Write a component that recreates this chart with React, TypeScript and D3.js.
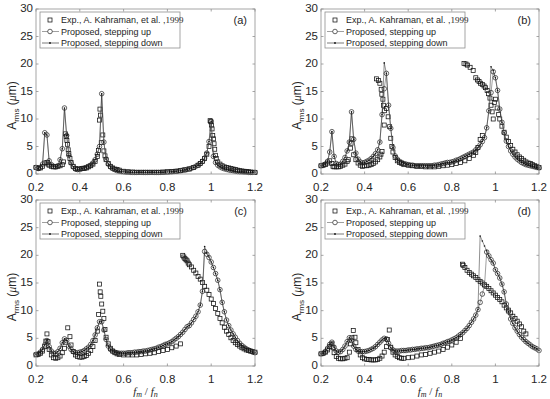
import * as d3 from "d3"

// frequency grid of the simulated curves (f_m / f_n)
const freq = d3.range(0, 101).map((i) => +(0.2 + i * 0.01).toFixed(2))

const xTicks = [0.2, 0.4, 0.6, 0.8, 1, 1.2]
const yTicks = [0, 5, 10, 15, 20, 25, 30]
const panelTags = ["(a)", "(b)", "(c)", "(d)"]
const legendLabels = ["Exp., A. Kahraman, et al. ,", "Proposed, stepping up", "Proposed, stepping down"]

// (a)
const upA = [
  1.2, 1.0, 1.2, 1.8, 7.5, 7.1, 2.4, 1.7, 1.4, 1.3,
  1.5, 2.6, 4.6, 12.0, 7.0, 3.4, 2.0, 1.3, 0.9, 0.8,
  0.9, 1.0, 1.1, 1.2, 1.4, 1.6, 2.0, 2.6, 3.6, 5.0,
  14.6, 5.8, 2.7, 1.8, 1.3, 1.0, 0.8, 0.6, 0.5, 0.45,
  0.4, 0.35, 0.35, 0.3, 0.3, 0.3, 0.3, 0.3, 0.3, 0.3,
  0.3, 0.3, 0.3, 0.3, 0.3, 0.3, 0.3, 0.3, 0.3, 0.35,
  0.35, 0.4, 0.4, 0.45, 0.5, 0.55, 0.6, 0.7, 0.75, 0.85,
  0.95, 1.05, 1.2, 1.4, 1.6, 1.9, 2.3, 2.9, 3.8, 5.9,
  9.6, 3.2, 2.1, 1.6, 1.3, 1.1, 0.95, 0.85, 0.75, 0.65,
  0.6, 0.5, 0.45, 0.4, 0.4, 0.35, 0.35, 0.3, 0.3, 0.3,
  0.3,
]
const downA = [
  1.2, 1.0, 1.2, 1.8, 7.5, 7.1, 2.4, 1.7, 1.4, 1.3,
  1.5, 2.6, 4.6, 12.0, 7.0, 3.4, 2.0, 1.3, 0.9, 0.8,
  0.9, 1.0, 1.1, 1.2, 1.4, 1.6, 2.0, 2.6, 3.6, 5.0,
  14.6, 5.8, 2.7, 1.8, 1.3, 1.0, 0.8, 0.6, 0.5, 0.45,
  0.4, 0.35, 0.35, 0.3, 0.3, 0.3, 0.3, 0.3, 0.3, 0.3,
  0.3, 0.3, 0.3, 0.3, 0.3, 0.3, 0.3, 0.3, 0.3, 0.35,
  0.35, 0.4, 0.4, 0.45, 0.5, 0.55, 0.6, 0.7, 0.75, 0.85,
  0.95, 1.05, 1.2, 1.4, 1.6, 1.9, 2.3, 2.9, 3.8, 5.9,
  9.6, 3.2, 2.1, 1.6, 1.3, 1.1, 0.95, 0.85, 0.75, 0.65,
  0.6, 0.5, 0.45, 0.4, 0.4, 0.35, 0.35, 0.3, 0.3, 0.3,
  0.3,
]
const expA = [
  [0.2, 1.2], [0.21, 1.0], [0.22, 1.1], [0.23, 1.4], [0.24, 2.0], [0.25, 2.1], [0.255, 1.8], [0.26, 1.6],
  [0.27, 1.4], [0.28, 1.3], [0.29, 1.3], [0.3, 1.4], [0.31, 1.5], [0.32, 1.7], [0.325, 2.2], [0.335, 7.3],
  [0.338, 6.8], [0.341, 6.1], [0.344, 5.4], [0.347, 4.4], [0.35, 3.7], [0.355, 2.8], [0.36, 2.1], [0.37, 1.4],
  [0.38, 1.0], [0.39, 0.9], [0.4, 0.9], [0.41, 1.0], [0.42, 1.0], [0.43, 1.1], [0.44, 1.3], [0.45, 1.5],
  [0.46, 1.8], [0.47, 2.3], [0.48, 3.2], [0.485, 4.3], [0.49, 9.8], [0.492, 11.8], [0.495, 10.7], [0.498, 5.7],
  [0.505, 7.1], [0.51, 4.2], [0.515, 3.3], [0.52, 2.6], [0.53, 1.9], [0.54, 1.4], [0.55, 1.1], [0.56, 0.9],
  [0.57, 0.8], [0.58, 0.7], [0.6, 0.5], [0.62, 0.4], [0.64, 0.35], [0.66, 0.3], [0.68, 0.3], [0.7, 0.3],
  [0.72, 0.3], [0.74, 0.3], [0.76, 0.3], [0.78, 0.35], [0.8, 0.4], [0.82, 0.45], [0.84, 0.5], [0.86, 0.6],
  [0.88, 0.75], [0.9, 0.9], [0.92, 1.2], [0.94, 1.6], [0.95, 1.9], [0.96, 2.3], [0.97, 2.8], [0.98, 3.6],
  [0.99, 5.0], [0.995, 9.7], [0.998, 9.5], [1.001, 8.9], [1.004, 8.2], [1.007, 7.0], [1.01, 6.4], [1.013, 5.5],
  [1.016, 4.5], [1.019, 3.4], [1.023, 2.8], [1.03, 2.2], [1.04, 1.8], [1.05, 1.5], [1.06, 1.3], [1.07, 1.2],
  [1.08, 1.1], [1.09, 1.0], [1.1, 0.9], [1.11, 0.8], [1.12, 0.7], [1.13, 0.6], [1.14, 0.55], [1.15, 0.5],
  [1.16, 0.45], [1.17, 0.4], [1.18, 0.35], [1.19, 0.3], [1.2, 0.3],
]

// (b)
const upB = [
  1.5, 1.6, 1.8, 2.3, 4.0, 7.7, 3.2, 1.9, 1.7, 1.8,
  2.3, 3.0, 4.2, 5.8, 11.3, 6.3, 3.8, 2.7, 2.2, 2.0,
  2.1, 2.3, 2.5, 2.8, 3.2, 3.7, 4.4, 5.8, 10.8, 15.5,
  18.3, 12.5, 8.3, 4.8, 3.3, 2.7, 2.3, 2.1, 1.9, 1.8,
  1.7, 1.6, 1.6, 1.5, 1.5, 1.5, 1.5, 1.5, 1.5, 1.5,
  1.5, 1.5, 1.6, 1.6, 1.7, 1.8, 1.9, 2.0, 2.1, 2.1,
  2.2, 2.3, 2.5, 2.6, 2.8, 3.0, 3.2, 3.4, 3.6, 3.8,
  4.0, 4.4, 4.8, 5.3, 5.9, 6.6, 8.4, 11.5, 14.8, 18.6,
  17.5, 15.2, 11.8, 9.4, 7.5, 6.0, 5.0, 4.2, 3.6, 3.1,
  2.7, 2.4, 2.1, 1.9, 1.7, 1.6, 1.5, 1.4, 1.3, 1.2,
  1.1,
]
const downB = [
  1.5, 1.6, 1.8, 2.3, 4.0, 7.7, 3.2, 1.9, 1.7, 1.8,
  2.3, 3.0, 4.2, 5.8, 11.3, 6.3, 3.8, 2.7, 2.2, 2.0,
  2.1, 2.3, 2.5, 2.8, 3.2, 3.7, 4.4, 5.8, 10.8, 20.2,
  18.3, 12.5, 8.3, 4.8, 3.3, 2.7, 2.3, 2.1, 1.9, 1.8,
  1.7, 1.6, 1.6, 1.5, 1.5, 1.5, 1.5, 1.5, 1.5, 1.5,
  1.5, 1.5, 1.6, 1.6, 1.7, 1.8, 1.9, 2.0, 2.1, 2.1,
  2.2, 2.3, 2.5, 2.6, 2.8, 3.0, 3.2, 3.4, 3.6, 3.8,
  4.0, 4.4, 4.8, 5.3, 5.9, 6.6, 8.4, 11.5, 19.5, 18.8,
  17.5, 15.2, 11.8, 9.4, 7.5, 6.0, 5.0, 4.2, 3.6, 3.1,
  2.7, 2.4, 2.1, 1.9, 1.7, 1.6, 1.5, 1.4, 1.3, 1.2,
  1.1,
]
const expB = [
  [0.2, 1.5], [0.21, 1.6], [0.22, 1.7], [0.23, 2.0], [0.24, 2.4], [0.25, 1.9], [0.255, 1.4], [0.26, 1.3],
  [0.27, 1.3], [0.28, 1.3], [0.29, 1.4], [0.3, 1.6], [0.31, 1.8], [0.32, 2.3], [0.325, 2.6], [0.335, 4.7],
  [0.338, 5.6], [0.342, 6.4], [0.35, 3.5], [0.36, 2.6], [0.37, 2.0], [0.38, 1.6], [0.39, 1.4], [0.4, 1.5],
  [0.41, 1.5], [0.42, 1.6], [0.43, 1.7], [0.44, 1.9], [0.45, 2.2], [0.46, 2.6], [0.47, 3.1], [0.475, 3.6],
  [0.48, 4.1], [0.49, 8.9], [0.455, 17.3], [0.463, 17.0], [0.47, 16.5], [0.476, 15.4], [0.479, 14.5],
  [0.484, 13.6], [0.487, 12.5], [0.491, 11.5], [0.5, 11.9], [0.508, 10.4], [0.515, 8.6], [0.52, 6.5],
  [0.525, 5.0], [0.53, 4.0], [0.54, 3.0], [0.55, 2.4], [0.56, 2.1], [0.57, 1.9], [0.58, 1.7], [0.6, 1.6],
  [0.62, 1.5], [0.64, 1.4], [0.66, 1.4], [0.68, 1.3], [0.7, 1.3], [0.72, 1.3], [0.74, 1.4], [0.76, 1.5],
  [0.78, 1.6], [0.8, 1.7], [0.82, 1.9], [0.84, 2.1], [0.86, 2.4], [0.88, 2.8], [0.9, 3.4], [0.91, 3.9],
  [0.92, 4.8], [0.93, 6.3], [0.94, 7.0], [0.856, 20.1], [0.865, 20.0], [0.872, 19.8], [0.884, 19.4],
  [0.898, 18.8], [0.91, 17.5], [0.918, 17.1], [0.925, 16.8], [0.932, 16.5], [0.94, 16.3], [0.948, 16.0],
  [0.955, 15.7], [0.962, 15.2], [0.968, 14.6], [0.975, 13.8], [0.98, 12.5], [0.985, 11.3], [0.99, 10.0],
  [0.995, 13.0], [1.0, 13.6], [1.008, 12.0], [1.015, 10.8], [1.02, 10.0], [1.03, 8.7], [1.04, 7.6],
  [1.05, 6.7], [1.06, 5.9], [1.07, 5.2], [1.08, 4.5], [1.09, 4.0], [1.1, 3.5], [1.11, 3.1], [1.12, 2.8],
  [1.13, 2.5], [1.14, 2.2], [1.15, 2.0], [1.16, 1.9], [1.17, 1.7], [1.18, 1.5], [1.19, 1.4], [1.2, 1.2],
]

// (c)
const upC = [
  2.1, 2.2, 2.5, 3.0, 3.8, 4.6, 3.5, 2.7, 2.3, 2.3,
  2.6, 3.2, 4.2, 4.9, 4.6, 3.6, 3.0, 2.6, 2.4, 2.4,
  2.5, 2.6, 2.8, 3.1, 3.4, 3.9, 4.6, 5.6, 6.9, 8.0,
  8.0, 6.5, 4.8, 3.6, 3.0, 2.7, 2.5, 2.4, 2.3, 2.3,
  2.3, 2.3, 2.4, 2.4, 2.4, 2.5, 2.5, 2.6, 2.6, 2.7,
  2.7, 2.8, 2.9, 3.0, 3.1, 3.2, 3.4, 3.5, 3.7, 3.9,
  4.0, 4.2, 4.4, 4.7, 5.0, 5.3, 5.7, 6.1, 6.6, 7.1,
  7.3, 7.8, 8.4, 9.0, 9.8, 11.0, 13.5, 20.7, 20.2, 19.6,
  18.8, 17.8, 16.7, 15.5, 13.8, 11.5, 9.8, 8.3, 7.3, 6.5,
  5.8, 5.2, 4.6, 4.1, 3.7, 3.4, 3.1, 2.9, 2.7, 2.5,
  2.4,
]
const downC = [
  2.1, 2.2, 2.5, 3.0, 3.8, 4.6, 3.5, 2.7, 2.3, 2.3,
  2.6, 3.2, 4.2, 4.9, 4.6, 3.6, 3.0, 2.6, 2.4, 2.4,
  2.5, 2.6, 2.8, 3.1, 3.4, 3.9, 4.6, 5.6, 6.9, 8.0,
  8.0, 6.5, 4.8, 3.6, 3.0, 2.7, 2.5, 2.4, 2.3, 2.3,
  2.3, 2.3, 2.4, 2.4, 2.4, 2.5, 2.5, 2.6, 2.6, 2.7,
  2.7, 2.8, 2.9, 3.0, 3.1, 3.2, 3.4, 3.5, 3.7, 3.9,
  4.0, 4.2, 4.4, 4.7, 5.0, 5.3, 5.7, 6.1, 6.6, 7.1,
  7.3, 7.8, 8.4, 9.0, 9.8, 11.0, 13.5, 21.6, 20.4, 19.7,
  18.8, 17.8, 16.7, 15.5, 13.8, 11.5, 9.8, 8.3, 7.3, 6.5,
  5.8, 5.2, 4.6, 4.1, 3.7, 3.4, 3.1, 2.9, 2.7, 2.5,
  2.4,
]
const expC = [
  [0.2, 2.0], [0.21, 2.1], [0.22, 2.3], [0.23, 2.7], [0.24, 3.5], [0.245, 4.5], [0.25, 5.8], [0.255, 4.4],
  [0.26, 3.0], [0.27, 2.0], [0.28, 1.5], [0.29, 1.4], [0.3, 1.5], [0.31, 1.8], [0.32, 2.4], [0.33, 3.2],
  [0.335, 4.3], [0.345, 6.9], [0.355, 5.3], [0.36, 3.8], [0.37, 2.6], [0.38, 2.0], [0.39, 1.7], [0.4, 1.6],
  [0.41, 1.6], [0.42, 1.7], [0.43, 1.9], [0.44, 2.3], [0.45, 2.8], [0.46, 3.5], [0.47, 4.6], [0.48, 6.3],
  [0.486, 9.3], [0.49, 14.8], [0.493, 13.4], [0.496, 12.6], [0.5, 11.2], [0.505, 9.9], [0.51, 8.6],
  [0.515, 6.6], [0.52, 5.2], [0.53, 4.0], [0.54, 3.2], [0.55, 2.7], [0.56, 2.4], [0.57, 2.2], [0.58, 2.1],
  [0.6, 2.0], [0.62, 2.0], [0.64, 2.0], [0.66, 2.0], [0.68, 2.1], [0.7, 2.2], [0.72, 2.3], [0.74, 2.4],
  [0.76, 2.6], [0.78, 2.8], [0.8, 3.0], [0.82, 3.3], [0.84, 3.6], [0.86, 4.0], [0.87, 20.0], [0.875, 19.7],
  [0.88, 19.4], [0.885, 19.2], [0.89, 19.0], [0.895, 18.6], [0.9, 18.3], [0.91, 17.9], [0.92, 17.3],
  [0.93, 16.8], [0.94, 16.2], [0.95, 15.7], [0.96, 15.1], [0.97, 14.4], [0.98, 13.7], [0.99, 12.9],
  [1.0, 12.1], [1.01, 11.3], [1.02, 10.4], [1.03, 9.5], [1.04, 8.6], [1.05, 7.8], [1.06, 7.0], [1.07, 6.3],
  [1.08, 5.7], [1.09, 5.1], [1.1, 4.6], [1.11, 4.2], [1.12, 3.9], [1.13, 3.6], [1.14, 3.3], [1.15, 3.1],
  [1.16, 2.9], [1.17, 2.8], [1.18, 2.7], [1.19, 2.6], [1.2, 2.5],
]

// (d)
const upD = [
  2.2, 2.3, 2.6, 3.2, 3.9, 4.3, 3.4, 2.7, 2.5, 2.6,
  3.0, 3.6, 4.4, 5.1, 4.6, 3.6, 3.0, 2.7, 2.6, 2.6,
  2.6, 2.7, 2.8, 3.0, 3.2, 3.5, 3.9, 4.3, 4.7, 5.0,
  4.9, 4.1, 3.3, 2.9, 2.7, 2.7, 2.7, 2.8, 2.8, 2.8,
  2.9, 2.9, 3.0, 3.0, 3.1, 3.1, 3.2, 3.2, 3.3, 3.3,
  3.4, 3.5, 3.6, 3.7, 3.8, 3.9, 4.1, 4.2, 4.4, 4.5,
  4.7, 4.9, 5.1, 5.4, 5.7, 6.0, 6.4, 6.8, 7.3, 7.9,
  8.5, 9.2, 10.2, 11.5, 13.0, 14.5, 20.6, 19.9, 19.2, 18.6,
  17.4, 16.7, 15.9, 14.8, 13.4, 11.2, 9.8, 8.5, 7.7, 6.9,
  6.3, 5.7, 5.2, 4.8, 4.4, 4.1, 3.8, 3.5, 3.3, 3.1,
  2.8,
]
const downD = [
  2.2, 2.3, 2.6, 3.2, 3.9, 4.3, 3.4, 2.7, 2.5, 2.6,
  3.0, 3.6, 4.4, 5.1, 4.6, 3.6, 3.0, 2.7, 2.6, 2.6,
  2.6, 2.7, 2.8, 3.0, 3.2, 3.5, 3.9, 4.3, 4.7, 5.0,
  4.9, 4.1, 3.3, 2.9, 2.7, 2.7, 2.7, 2.8, 2.8, 2.8,
  2.9, 2.9, 3.0, 3.0, 3.1, 3.1, 3.2, 3.2, 3.3, 3.3,
  3.4, 3.5, 3.6, 3.7, 3.8, 3.9, 4.1, 4.2, 4.4, 4.5,
  4.7, 4.9, 5.1, 5.4, 5.7, 6.0, 6.4, 6.8, 7.3, 7.9,
  8.5, 9.2, 10.2, 23.5, 22.6, 21.7, 20.8, 19.9, 19.2, 18.6,
  17.4, 16.7, 15.9, 14.8, 13.4, 11.2, 9.8, 8.5, 7.7, 6.9,
  6.3, 5.7, 5.2, 4.8, 4.4, 4.1, 3.8, 3.5, 3.3, 3.1,
  2.8,
]
const expD = [
  [0.2, 2.2], [0.21, 2.3], [0.22, 2.5], [0.23, 2.9], [0.24, 3.5], [0.25, 4.0], [0.255, 3.3], [0.26, 2.4],
  [0.27, 1.7], [0.28, 1.4], [0.29, 1.3], [0.3, 1.3], [0.31, 1.4], [0.32, 1.5], [0.33, 2.5], [0.335, 4.0],
  [0.342, 5.1], [0.348, 6.4], [0.356, 5.2], [0.36, 4.2], [0.37, 3.0], [0.38, 2.0], [0.39, 1.5], [0.4, 1.3],
  [0.41, 1.2], [0.42, 1.2], [0.43, 1.1], [0.44, 1.1], [0.45, 1.1], [0.46, 1.2], [0.47, 1.4], [0.48, 1.8],
  [0.49, 2.5], [0.5, 3.5], [0.505, 4.8], [0.513, 6.5], [0.52, 3.4], [0.53, 2.5], [0.54, 2.0], [0.55, 1.7],
  [0.56, 1.5], [0.57, 1.4], [0.58, 1.4], [0.6, 1.5], [0.62, 1.6], [0.64, 1.8], [0.66, 2.0], [0.68, 2.1],
  [0.7, 2.3], [0.72, 2.5], [0.74, 2.7], [0.76, 3.0], [0.78, 3.4], [0.8, 3.8], [0.82, 4.3], [0.84, 5.0],
  [0.849, 18.4], [0.852, 18.2], [0.86, 17.8], [0.87, 17.3], [0.88, 16.9], [0.89, 16.6], [0.9, 16.3],
  [0.91, 16.0], [0.92, 15.6], [0.93, 15.3], [0.94, 15.0], [0.95, 14.7], [0.96, 14.4], [0.97, 14.0],
  [0.98, 13.6], [0.99, 13.2], [1.0, 12.8], [1.01, 12.4], [1.02, 12.0], [1.03, 11.6], [1.04, 11.0],
  [1.05, 10.5], [1.06, 10.1], [1.07, 9.6], [1.08, 9.0], [1.09, 8.6], [1.1, 8.1], [1.11, 7.6], [1.12, 7.1],
  [1.13, 6.3], [1.14, 5.8],
]

const W = 550
const H = 399
const boxes = [
  { l: 36, r: 255, t: 9, b: 174 },
  { l: 321, r: 539, t: 9, b: 174 },
  { l: 36, r: 255, t: 200, b: 366 },
  { l: 321, r: 539, t: 200, b: 366 },
]
const series = [
  { exp: expA, up: upA, down: downA },
  { exp: expB, up: upB, down: downB },
  { exp: expC, up: upC, down: downC },
  { exp: expD, up: upD, down: downD },
]

const AXIS = "#8f8f8f"
const TEXT = "#262626"
const SANS = "Arial, 'Liberation Sans', Helvetica, sans-serif"
const SERIF = "'Times New Roman', 'Liberation Serif', serif"

function Legend({ x0, y0 }: { x0: number; y0: number }) {
  const rows = [y0 + 8, y0 + 19.5, y0 + 31]
  const sx = x0 + 10
  return (
    <g fontFamily={SANS} fontSize={9} fill={TEXT}>
      <rect x={x0} y={y0} width={140} height={36} fill="white" stroke={AXIS} strokeWidth={0.8} />
      <rect x={sx - 2} y={rows[0] - 2} width={4} height={4} fill="none" stroke="#111" strokeWidth={0.75} />
      <line x1={x0 + 2} x2={x0 + 19} y1={rows[1]} y2={rows[1]} stroke="#777" strokeWidth={0.7} />
      <circle cx={sx} cy={rows[1]} r={2.3} fill="white" stroke="#222" strokeWidth={0.7} />
      <line x1={x0 + 2} x2={x0 + 19} y1={rows[2]} y2={rows[2]} stroke="#222" strokeWidth={0.6} />
      <circle cx={sx} cy={rows[2]} r={0.9} fill="#111" />
      <text x={x0 + 21} y={rows[0] + 3.2}>
        {legendLabels[0]}
        <tspan fontFamily={SERIF} fontSize={9}>1999</tspan>
      </text>
      <text x={x0 + 21} y={rows[1] + 3.2}>{legendLabels[1]}</text>
      <text x={x0 + 21} y={rows[2] + 3.2}>{legendLabels[2]}</text>
    </g>
  )
}

function Panel({ idx }: { idx: number }) {
  const box = boxes[idx]
  const s = series[idx]
  const x = d3.scaleLinear().domain([0.2, 1.2]).range([box.l, box.r])
  const y = d3.scaleLinear().domain([0, 30]).range([box.b, box.t])
  const line = d3
    .line<number>()
    .x((_, i) => x(freq[i]))
    .y((d) => y(d))
  const bottomRow = idx >= 2
  const midY = (box.t + box.b) / 2 + 14

  return (
    <g>
      {/* experimental points */}
      {s.exp.map(([f, a], i) => (
        <rect key={"e" + i} x={x(f) - 2} y={y(a) - 2} width={4} height={4} fill="none" stroke="#111" strokeWidth={0.75} />
      ))}
      {/* stepping up */}
      <path d={line(s.up) ?? ""} fill="none" stroke="#777" strokeWidth={0.7} />
      {s.up.map((a, i) => (
        <circle key={"u" + i} cx={x(freq[i])} cy={y(a)} r={2.3} fill="none" stroke="#222" strokeWidth={0.7} />
      ))}
      {/* stepping down */}
      <path d={line(s.down) ?? ""} fill="none" stroke="#222" strokeWidth={0.5} />
      {s.down.map((a, i) => (
        <circle key={"d" + i} cx={x(freq[i])} cy={y(a)} r={0.8} fill="#111" />
      ))}

      {/* box + ticks */}
      <rect x={box.l} y={box.t} width={box.r - box.l} height={box.b - box.t} fill="none" stroke={AXIS} strokeWidth={0.8} />
      {xTicks.map((t) => (
        <g key={"xt" + t}>
          <line x1={x(t)} x2={x(t)} y1={box.b} y2={box.b - 2.5} stroke={AXIS} strokeWidth={0.8} />
          <line x1={x(t)} x2={x(t)} y1={box.t} y2={box.t + 2.5} stroke={AXIS} strokeWidth={0.8} />
          <text x={x(t)} y={box.b + 16.5} textAnchor="middle" fontFamily={SANS} fontSize={11.5} fill={TEXT}>
            {t}
          </text>
        </g>
      ))}
      {yTicks.map((t) => (
        <g key={"yt" + t}>
          <line x1={box.l} x2={box.l + 2.5} y1={y(t)} y2={y(t)} stroke={AXIS} strokeWidth={0.8} />
          <line x1={box.r} x2={box.r - 2.5} y1={y(t)} y2={y(t)} stroke={AXIS} strokeWidth={0.8} />
          <text x={box.l - 3} y={y(t) + 3} textAnchor="end" fontFamily={SANS} fontSize={11.5} fill={TEXT}>
            {t}
          </text>
        </g>
      ))}

      <Legend x0={box.l + 4} y0={box.t + 3} />
      <text x={box.r - 8} y={box.t + 15} textAnchor="end" fontFamily={SANS} fontSize={11} fill={TEXT}>
        {panelTags[idx]}
      </text>

      {/* y label */}
      <text
        transform={`translate(${box.l - 20},${midY}) rotate(-90)`}
        textAnchor="middle"
        fontFamily={SANS}
        fontSize={12}
        fill={TEXT}
      >
        A<tspan fontSize={8} dy={3}>rms</tspan>
        <tspan dy={-3}> (</tspan>
        <tspan fontFamily={SERIF} fontStyle="italic">μ</tspan>m)
      </text>

      {bottomRow && (
        <text x={(box.l + box.r) / 2} y={box.b + 28.5} textAnchor="middle" fontFamily={SERIF} fontStyle="italic" fontSize={11} fill={TEXT}>
          f<tspan fontSize={8} dy={2}>m</tspan>
          <tspan dy={-2} fontStyle="normal"> / </tspan>f<tspan fontSize={8} dy={2}>n</tspan>
        </text>
      )}
    </g>
  )
}

export default function App() {
  return (
    <svg width={W} height={H} style={{ position: "absolute", left: 0, top: 0, background: "white" }}>
      {[0, 1, 2, 3].map((i) => (
        <Panel key={i} idx={i} />
      ))}
    </svg>
  )
}
